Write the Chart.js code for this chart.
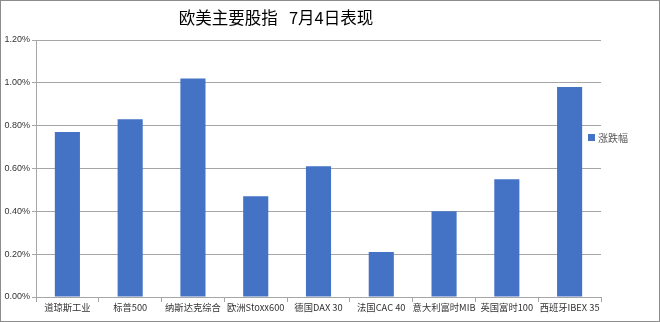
<!DOCTYPE html>
<html>
<head>
<meta charset="utf-8">
<script src="https://cdn.jsdelivr.net/npm/chart.js@4"></script>
<style>
  body { margin: 0; background: #fff; }
  #wrap { width: 660px; height: 322px; }
</style>
</head>
<body>
<div id="wrap"><canvas id="c" width="660" height="322"></canvas></div>
<script>
// chart data
const titleText = "欧美主要股指   7月4日表现";
const seriesName = "涨跌幅";
const categories = ["道琼斯工业", "标普500", "纳斯达克综合", "欧洲Stoxx600", "德国DAX 30", "法国CAC 40", "意大利富时MIB", "英国富时100", "西班牙IBEX 35"];
const changes = [0.77, 0.83, 1.02, 0.47, 0.61, 0.21, 0.40, 0.55, 0.98];
const barColor = "#4472c4";

// title, legend and frame drawn like the excel original
const decor = {
  id: "decor",
  afterDraw(chart) {
    const ctx = chart.ctx;
    ctx.save();
    ctx.fillStyle = "#000";
    ctx.font = "16.5px 'Noto Sans CJK SC'";
    ctx.textAlign = "center";
    ctx.textBaseline = "middle";
    ctx.fillText(titleText, 276, 18);

    const ds = chart.data.datasets[0];
    ctx.fillStyle = ds.backgroundColor;
    ctx.fillRect(588, 134, 7, 7);
    ctx.fillStyle = "#595959";
    ctx.font = "10px 'Noto Sans CJK SC'";
    ctx.textAlign = "left";
    ctx.fillText(ds.label, 598, 138);

    ctx.strokeStyle = "#8c8c8c";
    ctx.lineWidth = 1;
    ctx.strokeRect(0.5, 0.5, 659, 321);
    ctx.restore();
  }
};

new Chart(document.getElementById("c"), {
  type: "bar",
  data: {
    labels: categories,
    datasets: [{
      label: seriesName,
      data: changes,
      backgroundColor: barColor,
      borderWidth: 0,
      barPercentage: 0.4,
      categoryPercentage: 1
    }]
  },
  options: {
    responsive: false,
    animation: false,
    layout: { padding: { left: 0, right: 59, top: 40, bottom: 0 } },
    plugins: {
      legend: { display: false },
      title: { display: false },
      tooltip: { enabled: false }
    },
    scales: {
      x: {
        afterFit(scale) { scale.height = 25; },
        grid: { drawOnChartArea: false, drawTicks: true, tickLength: 5, color: "#a6a6a6" },
        border: { color: "#a6a6a6" },
        ticks: { color: "#333", font: { size: 9.3, family: "'Noto Sans CJK SC'" }, maxRotation: 0, autoSkip: false, padding: 0 }
      },
      y: {
        min: 0,
        max: 1.2,
        afterFit(scale) { scale.width = 36; },
        grid: { color: "#a6a6a6", tickLength: 4 },
        border: { color: "#a6a6a6" },
        ticks: {
          stepSize: 0.2,
          color: "#333",
          font: { size: 9, family: "'Liberation Sans'" },
          padding: 2,
          callback: (v) => v.toFixed(2) + "%"
        }
      }
    }
  },
  plugins: [decor]
});
</script>
</body>
</html>
